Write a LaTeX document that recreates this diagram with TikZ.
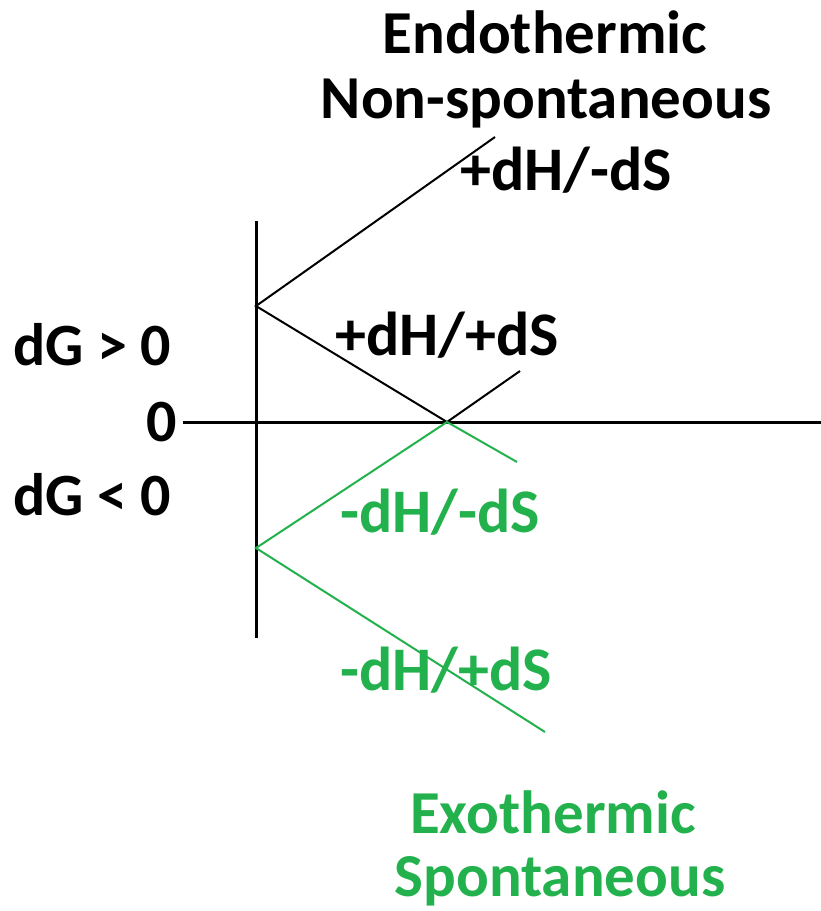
\documentclass[tikz,border=0pt]{standalone}
\usepackage{fontspec}
\setmainfont{Carlito}
\usepackage{xcolor}
\usepackage{tikz}
\usetikzlibrary{calc,positioning}
\definecolor{greenx}{HTML}{22B14C}
\tikzset{
  axis/.style={line width=3pt,black},
  bline/.style={line width=2pt,black},
  gline/.style={line width=2pt,greenx},
  lbl/.style={font=\fontsize{62}{66}\selectfont\bfseries,inner sep=0pt,anchor=base west},
  side/.style={font=\fontsize{60}{64}\selectfont\bfseries,inner sep=0pt,anchor=base west},
  ttl/.style={font=\fontsize{61}{64}\selectfont\bfseries,inner sep=0pt,anchor=base}
}
\begin{document}
\begin{tikzpicture}[x=1pt,y=-1pt]
\useasboundingbox (0,0) rectangle (821,911);
% axes
\coordinate (vtop) at (256,221);
\coordinate (vbot) at (256,638);
\coordinate (hl) at (183,422);
\coordinate (hr) at (821,422);
\draw[axis] (vtop)--(vbot);
\draw[axis] (hl)--(hr);
% branch points
\coordinate (pA) at (256,306);
\coordinate (pB) at (256,548);
\coordinate (pC) at (447,422);
\coordinate (eA) at (495,137);
\coordinate (eC) at (520,371);
\coordinate (eG) at (517,462);
\coordinate (eB) at (545,732);
\draw[bline] (eA)--(pA)--(pC)--(eC);
\draw[gline] (eG)--(pC)--(pB)--(eB);
% labels
\node[side] (gpos) at (13,365) {dG > 0};
\node[side] (zero) at (146,441) {0};
\node[side] (gneg) at (13,515) {dG < 0};
\node[lbl] (pm) at (460,190) {+dH/-dS};
\node[lbl] (pp) at (335,355) {+dH/+dS};
\node[lbl,greenx] (mm) at (340,532) {-dH/-dS};
\node[lbl,greenx] (mp) at (340,690) {-dH/+dS};
\node[ttl] (endo) at (545,53) {Endothermic};
\node[ttl] (nons) at (546,118) {Non-spontaneous};
\node[ttl,greenx] (exo) at (553,833) {Exothermic};
\node[ttl,greenx] (spon) at (560,896) {Spontaneous};
\end{tikzpicture}
\end{document}
